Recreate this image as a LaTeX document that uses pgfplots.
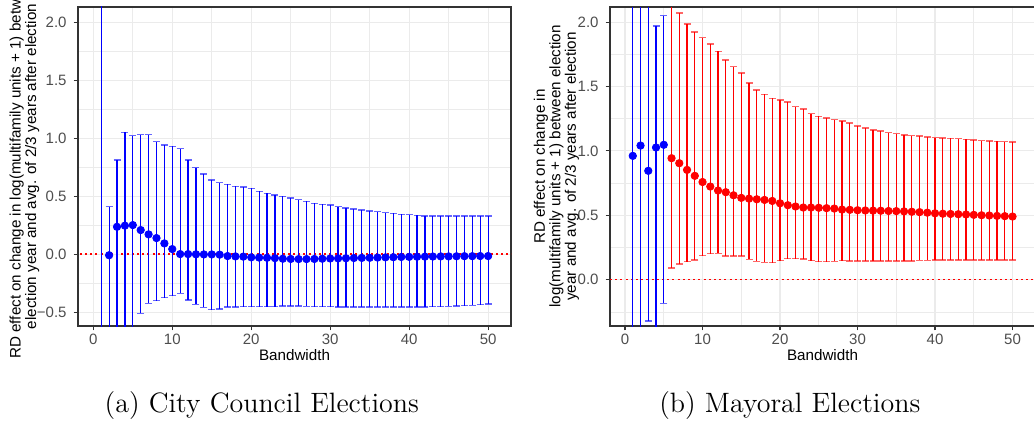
\documentclass[border=0pt]{standalone}
\usepackage{pgfplots}
\pgfplotsset{compat=1.18}
\usepackage{pgfplotstable}
\usepackage{fontspec}
\newfontfamily\arial{Liberation Sans}
\definecolor{gridc}{HTML}{EBEBEB}
\definecolor{tickc}{HTML}{4D4D4D}
\definecolor{framec}{HTML}{333333}
\definecolor{zeroc}{HTML}{FF0000}

\pgfplotstableread{
x y hi lo
1 2.5 6 -4
2 -0.01 0.41 -1.5
3 0.235 0.81 -1.5
4 0.245 1.05 -1.5
5 0.25 1.02 -1.5
6 0.207 1.03 -0.512
7 0.17 1.03 -0.425
8 0.138 0.97 -0.402
9 0.092 0.94 -0.376
10 0.043 0.93 -0.358
11 0.0 0.91 -0.339
12 0.0 0.81 -0.397
13 -0.002 0.745 -0.434
14 -0.003 0.69 -0.46
15 -0.003 0.64 -0.48
16 -0.005 0.615 -0.475
17 -0.017 0.60 -0.457
18 -0.02 0.585 -0.455
19 -0.022 0.578 -0.454
20 -0.028 0.566 -0.454
21 -0.03 0.54 -0.453
22 -0.032 0.523 -0.453
23 -0.035 0.509 -0.452
24 -0.04 0.497 -0.448
25 -0.042 0.483 -0.447
26 -0.043 0.468 -0.448
27 -0.043 0.454 -0.45
28 -0.042 0.437 -0.452
29 -0.04 0.428 -0.453
30 -0.038 0.422 -0.454
31 -0.037 0.408 -0.455
32 -0.036 0.397 -0.455
33 -0.034 0.388 -0.455
34 -0.033 0.379 -0.455
35 -0.032 0.373 -0.455
36 -0.03 0.365 -0.455
37 -0.028 0.356 -0.455
38 -0.027 0.35 -0.455
39 -0.025 0.342 -0.455
40 -0.024 0.339 -0.456
41 -0.023 0.333 -0.456
42 -0.022 0.33 -0.455
43 -0.021 0.33 -0.454
44 -0.02 0.33 -0.452
45 -0.02 0.33 -0.45
46 -0.019 0.33 -0.447
47 -0.018 0.33 -0.444
48 -0.018 0.33 -0.441
49 -0.017 0.33 -0.437
50 -0.017 0.33 -0.432
}\tabA

\pgfplotstableread{
x y hi lo
1 0.961 3 -1
2 1.041 3 -1
3 0.845 3 -0.321
4 1.026 1.971 -1
5 1.047 2.051 -0.183
}\tabBblue

\pgfplotstableread{
x y hi lo
6 0.943 3 0.091
7 0.904 2.07 0.122
8 0.852 1.984 0.140
9 0.806 1.922 0.153
10 0.758 1.880 0.187
11 0.723 1.829 0.202
12 0.692 1.772 0.205
13 0.679 1.707 0.184
14 0.655 1.653 0.184
15 0.635 1.604 0.184
16 0.629 1.526 0.158
17 0.624 1.474 0.143
18 0.619 1.438 0.135
19 0.611 1.407 0.132
20 0.593 1.394 0.148
21 0.578 1.378 0.163
22 0.568 1.344 0.163
23 0.560 1.324 0.161
24 0.560 1.290 0.148
25 0.558 1.267 0.140
26 0.555 1.254 0.140
27 0.552 1.243 0.143
28 0.544 1.231 0.148
29 0.542 1.215 0.145
30 0.539 1.194 0.145
31 0.537 1.176 0.145
32 0.536 1.163 0.145
33 0.535 1.153 0.145
34 0.533 1.142 0.145
35 0.532 1.134 0.145
36 0.530 1.124 0.145
37 0.527 1.119 0.145
38 0.524 1.114 0.150
39 0.520 1.109 0.150
40 0.515 1.103 0.153
41 0.512 1.100 0.153
42 0.510 1.098 0.153
43 0.508 1.095 0.153
44 0.506 1.090 0.153
45 0.503 1.085 0.153
46 0.500 1.080 0.153
47 0.498 1.077 0.153
48 0.495 1.075 0.153
49 0.493 1.072 0.153
50 0.490 1.070 0.153
}\tabBred

\pgfplotsset{
  rdaxis/.style={
    scale only axis, height=159.5pt,
    xmin=-1.94, xmax=52.9,
    xtick={0,10,20,30,40,50}, minor xtick={5,15,25,35,45},
    xticklabels={0,10,20,30,40,50},
    grid=both,
    major grid style={gridc, line width=0.55pt},
    minor grid style={gridc, line width=0.3pt},
    axis line style={framec, line width=0.55pt},
    tick style={framec, line width=0.55pt},
    major tick length=2.2pt, minor tick length=0pt,
    tick align=outside, tick pos=left,
    ticklabel style={font=\arial\fontsize{7.5}{9}\selectfont, text=tickc},
    xticklabel style={yshift=1.5pt},
    xlabel={Bandwidth},
    xlabel style={font=\arial\fontsize{7.6}{9}\selectfont, at={(axis description cs:0.5,0)}, anchor=base, yshift=-17pt},
    clip=true,
  },
  rdbars/.style={
    only marks, mark=*, mark size=1.85pt, mark options={fill=#1, draw=#1},
    error bars/.cd, y dir=both, y explicit,
    error bar style={line width=0.6pt, #1},
    error mark=-,
    error mark options={rotate=90, #1, mark size=1.75pt, line width=0.7pt, draw opacity=0.6},
  },
}

\begin{document}
\begin{tikzpicture}
\useasboundingbox (0,0) rectangle (517pt,210pt);

\begin{axis}[rdaxis, at={(39pt,47pt)}, anchor=south west, width=216.5pt,
  ymin=-0.62, ymax=2.13,
  ytick={-0.5,0,0.5,1,1.5,2}, yticklabels={−0.5,0.0,0.5,1.0,1.5,2.0},
  minor ytick={-0.25,0.25,0.75,1.25,1.75}]
\addplot[color=zeroc, solid, line width=0.6pt, dash pattern=on 1pt off 1.6pt, mark=none] coordinates {(-5,0) (60,0)};
\addplot[rdbars=blue] table[x=x, y=y, y error plus expr=\thisrow{hi}-\thisrow{y}, y error minus expr=\thisrow{y}-\thisrow{lo}] {\tabA};
\end{axis}

\begin{axis}[rdaxis, at={(305pt,47pt)}, anchor=south west, width=212.5pt,
  ymin=-0.36, ymax=2.117,
  ytick={0,0.5,1,1.5,2}, yticklabels={0.0,0.5,1.0,1.5,2.0},
  minor ytick={-0.25,0.25,0.75,1.25,1.75}]
\draw[red, line width=0.7pt, dash pattern=on 1pt off 1.6pt] (axis cs:-1.94,0) -- (axis cs:52.9,0);
\addplot[rdbars=blue] table[x=x, y=y, y error plus expr=\thisrow{hi}-\thisrow{y}, y error minus expr=\thisrow{y}-\thisrow{lo}] {\tabBblue};
\addplot[rdbars=red] table[x=x, y=y, y error plus expr=\thisrow{hi}-\thisrow{y}, y error minus expr=\thisrow{y}-\thisrow{lo}] {\tabBred};
\end{axis}

\node[rotate=90, align=center, font=\arial\fontsize{7.6}{7.75}\selectfont] at (12.25pt,126.75pt)
  {RD effect on change in log(multifamily units + 1) between\\election year and avg. of 2/3 years after election};
\node[rotate=90, align=center, font=\arial\fontsize{7.6}{7.75}\selectfont] at (278.25pt,126.75pt)
  {RD effect on change in\\log(multifamily units + 1) between election\\year and avg. of 2/3 years after election};

\node[anchor=base, font=\fontsize{14}{16}\selectfont] at (130.9pt,4pt) {(a) City Council Elections};
\node[anchor=base, font=\fontsize{14}{16}\selectfont] at (394.9pt,4pt) {(b) Mayoral Elections};
\end{tikzpicture}
\end{document}
